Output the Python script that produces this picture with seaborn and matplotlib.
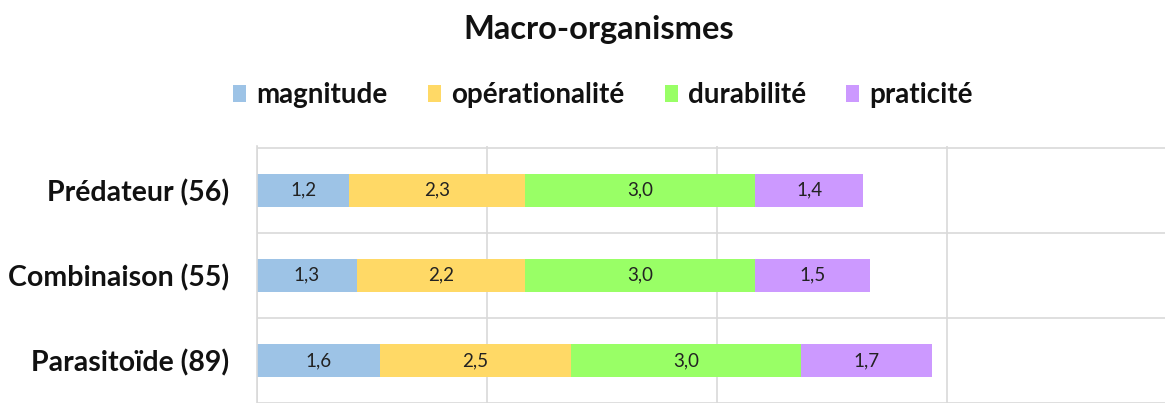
import numpy as np
import pandas as pd
import seaborn as sns
import matplotlib
matplotlib.use("Agg")
import matplotlib.pyplot as plt
from matplotlib.patches import Patch

# ---- data ----
categories = ["Prédateur (56)", "Combinaison (55)", "Parasitoïde (89)"]
series_names = ["magnitude", "opérationalité", "durabilité", "praticité"]
magnitude = [1.2, 1.3, 1.6]
operationalite = [2.3, 2.2, 2.5]
durabilite = [3.0, 3.0, 3.0]
praticite = [1.4, 1.5, 1.7]
colors = ["#9DC3E6", "#FFD966", "#99FF66", "#CC99FF"]
title = "Macro-organismes"

sns.set_theme(style="white")
plt.rcParams["font.family"] = ["Lato", "DejaVu Sans"]

series = [magnitude, operationalite, durabilite, praticite]
df = pd.DataFrame({"categorie": categories})
for name, vals in zip(series_names, series):
    df[name] = vals
cum = df[series_names].cumsum(axis=1)

fig = plt.figure(figsize=(11.65, 4.03), dpi=100)
ax = fig.add_axes([257 / 1165, 0.0, 908 / 1165, 257 / 403])

# draw cumulative bars from the longest to the shortest (stacked look)
for i in range(len(series_names) - 1, -1, -1):
    tmp = pd.DataFrame({"categorie": categories, "val": cum[series_names[i]].values})
    sns.barplot(data=tmp, y="categorie", x="val", orient="h", color=colors[i],
                width=0.39, ax=ax, saturation=1, edgecolor="none", linewidth=0)

# data labels
for i, name in enumerate(series_names):
    starts = cum[name].values - df[name].values
    for j, v in enumerate(df[name].values):
        ax.text(starts[j] + v / 2, j, f"{v:.1f}".replace(".", ","),
                ha="center", va="center", fontsize=13.5, color="#222222",
                family=["Lato", "DejaVu Sans"])

ax.set_xlim(0, 908 / (230 / 3))
ax.set_ylim(2.44, -0.52)
ax.set_xticks([0, 3, 6, 9])
ax.set_xticklabels([])
ax.set_yticks([-0.5, 0.5, 1.5, 2.5], minor=True)
ax.grid(axis="x", which="major", color="#D9D9D9", linewidth=1.2)
ax.grid(axis="y", which="minor", color="#D9D9D9", linewidth=1.2)
ax.grid(axis="y", which="major", visible=False)
ax.set_axisbelow(True)
for s in ["top", "right", "bottom"]:
    ax.spines[s].set_visible(False)
ax.spines["left"].set_color("#D9D9D9")
ax.spines["left"].set_linewidth(1.2)
ax.set_xlabel("")
ax.set_ylabel("")
ax.tick_params(axis="y", which="both", length=0, pad=20)
ax.tick_params(axis="x", length=0)
for lbl in ax.get_yticklabels():
    lbl.set_fontweight("bold")
    lbl.set_fontsize(20.5)
    lbl.set_color("#111111")

fig.text(599 / 1165, 1 - 30 / 403, title, ha="center", va="center",
         fontsize=23.5, fontweight="bold", color="#111111")

handles = [Patch(facecolor=c, edgecolor="none", label=n) for c, n in zip(colors, series_names)]
leg = fig.legend(handles=handles, loc="center", bbox_to_anchor=(603 / 1165, 1 - 95 / 403),
                 ncol=4, frameon=False, handlelength=0.47, handleheight=0.55,
                 handletextpad=0.36, columnspacing=1.45,
                 prop={"weight": "bold", "size": 20})
for t in leg.get_texts():
    t.set_color("#111111")

fig.savefig("out.png", dpi=100)
